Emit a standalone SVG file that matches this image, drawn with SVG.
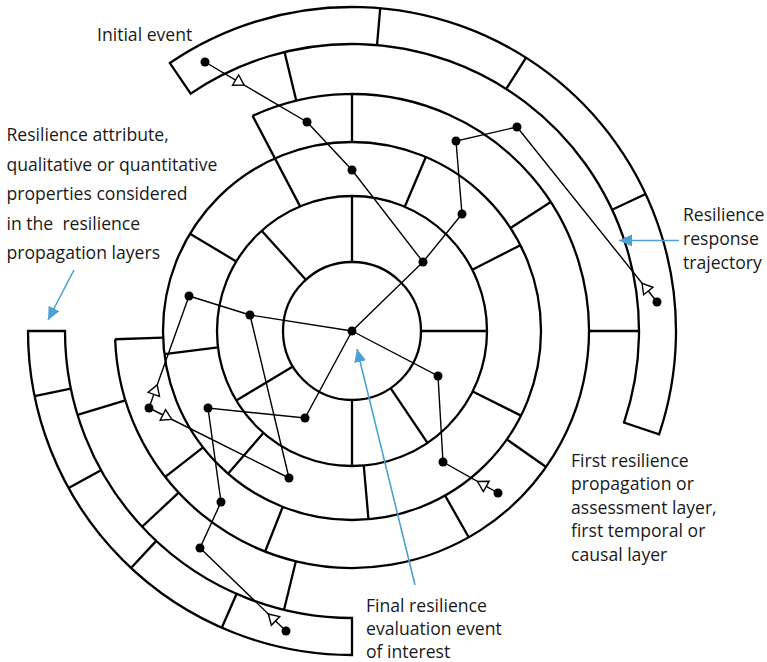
<svg xmlns="http://www.w3.org/2000/svg" width="767" height="662" viewBox="0 0 767 662">
  <defs>
    <style>
      .ring{fill:none;stroke:#000;stroke-width:2.3;stroke-linejoin:miter}
      .div line{stroke:#000;stroke-width:2.3}
      .trj{fill:none;stroke:#000;stroke-width:1.4}
      .dot{fill:#000}
      .lbl{font-family:"Open Sans","Noto Sans","DejaVu Sans",sans-serif;font-size:17.6px;fill:#1a1a1a}
      .ptr{fill:none;stroke:#4ba0d4;stroke-width:1.6}
    </style>
    <!-- hollow start-of-trajectory triangle, centred on the vertex -->
    <marker id="startTri" viewBox="-9 -9 18 18" markerWidth="18" markerHeight="18" refX="0" refY="0" orient="auto" markerUnits="userSpaceOnUse">
      <path d="M6.5,0 L-3.5,-6 L-3.5,6 Z" fill="#fff" stroke="#000" stroke-width="1.4"/>
    </marker>
    <!-- filled blue pointer head -->
    <marker id="blueHead" viewBox="0 -7 14 14" markerWidth="14" markerHeight="14" refX="13" refY="0" orient="auto" markerUnits="userSpaceOnUse">
      <path d="M0,-6 L13,0 L0,6 Z" fill="#4ba0d4"/>
    </marker>
  </defs>

  <rect width="767" height="662" fill="#fff"/>

  <!-- concentric layers, centred on the final event -->
  <g id="layers" transform="translate(352,331)">
    <circle class="ring" r="69"/>
    <circle class="ring" r="135"/>
    <circle class="ring" r="189"/>
    <!-- third layer band, almost a full turn -->
    <path class="ring" d="M-99.41,-215.14 A237,237 0 1 1 -236.86,8.27"/>
    <!-- outer band, upper right -->
    <path class="ring" d="M-182.11,-267.97 A324,324 0 0 1 307.08,103.34 L272.01,91.54 A287,287 0 0 0 -161.32,-237.37 Z"/>
    <!-- outer band, lower left -->
    <path class="ring" d="M0,324 A324,324 0 0 1 -324,0 L-287,0 A287,287 0 0 0 0,287 Z"/>
  </g>

  <!-- cell dividers -->
  <g id="dividers" class="div" transform="translate(352,331)">
    <!-- band ends -->
    <line x1="-99.41" y1="-215.14" x2="-51.88" y2="-124.63"/>
    <line x1="-236.86" y1="8.27" x2="-188.88" y2="6.60"/>
    <!-- layer 1 -->
    <line x1="69" x2="135" transform="rotate(-132)"/>
    <line x1="69" x2="135" transform="rotate(-90)"/>
    <line x1="69" x2="135" transform="rotate(0)"/>
    <line x1="69" x2="135" transform="rotate(56)"/>
    <line x1="69" x2="135" transform="rotate(90)"/>
    <line x1="69" x2="135" transform="rotate(149)"/>
    <!-- layer 2 -->
    <line x1="135" x2="189" transform="rotate(-149)"/>
    <line x1="135" x2="189" transform="rotate(-67)"/>
    <line x1="135" x2="189" transform="rotate(-27)"/>
    <line x1="135" x2="189" transform="rotate(26.6)"/>
    <line x1="135" x2="189" transform="rotate(85)"/>
    <line x1="135" x2="189" transform="rotate(131)"/>
    <line x1="135" x2="189" transform="rotate(173)"/>
    <!-- layer 3 -->
    <line x1="189" x2="237" transform="rotate(-90)"/>
    <line x1="189" x2="237" transform="rotate(-33)"/>
    <line x1="189" x2="237" transform="rotate(35)"/>
    <line x1="189" x2="237" transform="rotate(60.5)"/>
    <line x1="189" x2="237" transform="rotate(111.5)"/>
    <line x1="189" x2="237" transform="rotate(142)"/>
    <!-- layer 4 -->
    <line x1="237" x2="287" transform="rotate(-103.6)"/>
    <line x1="237" x2="287" transform="rotate(0)"/>
    <line x1="237" x2="287" transform="rotate(103.7)"/>
    <line x1="237" x2="287" transform="rotate(137)"/>
    <line x1="237" x2="287" transform="rotate(163)"/>
    <!-- layer 5 -->
    <line x1="287" x2="324" transform="rotate(-85)"/>
    <line x1="287" x2="324" transform="rotate(-57.5)"/>
    <line x1="287" x2="324" transform="rotate(-25)"/>
    <line x1="287" x2="324" transform="rotate(113.7)"/>
    <line x1="287" x2="324" transform="rotate(133)"/>
    <line x1="287" x2="324" transform="rotate(151)"/>
    <line x1="287" x2="324" transform="rotate(168.4)"/>
  </g>

  <!-- trajectories -->
  <g id="connectors">
    <path class="trj" d="M205,62 L238.6,81.8 L307,122" marker-mid="url(#startTri)"/>
    <path class="trj" d="M307,122 L352,170 L423,262 L352,331"/>
    <path class="trj" d="M657,302 L646.1,288.3 L517,127" marker-mid="url(#startTri)"/>
    <path class="trj" d="M517,127 L456,141 L462,214 L423,262"/>
    <path class="trj" d="M149,408 L155,391 L189,296" marker-mid="url(#startTri)"/>
    <path class="trj" d="M189,296 L250,315 L352,331"/>
    <path class="trj" d="M149,408 L166,416.5 L289,478" marker-mid="url(#startTri)"/>
    <path class="trj" d="M289,478 L250,315"/>
    <path class="trj" d="M286,631 L273,618.5 L200,548" marker-mid="url(#startTri)"/>
    <path class="trj" d="M200,548 L221,502 L208,408 L305,418 L352,331"/>
    <path class="trj" d="M498,493 L483.2,484.7 L443,462" marker-mid="url(#startTri)"/>
    <path class="trj" d="M443,462 L438,376 L352,331"/>
  </g>

  <!-- events -->
  <g id="nodes">
    <g id="final-event"><circle class="dot" cx="352" cy="331" r="4.5"/></g>
    <g id="e-top-start"><circle class="dot" cx="205" cy="62" r="4.5"/></g>
    <g id="e-top-1"><circle class="dot" cx="307" cy="122" r="4.5"/></g>
    <g id="e-top-2"><circle class="dot" cx="352" cy="170" r="4.5"/></g>
    <g id="e-top-3"><circle class="dot" cx="423" cy="262" r="4.5"/></g>
    <g id="e-right-start"><circle class="dot" cx="657" cy="302" r="4.5"/></g>
    <g id="e-right-1"><circle class="dot" cx="517" cy="127" r="4.5"/></g>
    <g id="e-right-2"><circle class="dot" cx="456" cy="141" r="4.5"/></g>
    <g id="e-right-3"><circle class="dot" cx="462" cy="214" r="4.5"/></g>
    <g id="e-left-start"><circle class="dot" cx="149" cy="408" r="4.5"/></g>
    <g id="e-left-1"><circle class="dot" cx="189" cy="296" r="4.5"/></g>
    <g id="e-left-2"><circle class="dot" cx="250" cy="315" r="4.5"/></g>
    <g id="e-left-3"><circle class="dot" cx="289" cy="478" r="4.5"/></g>
    <g id="e-bottom-start"><circle class="dot" cx="286" cy="631" r="4.5"/></g>
    <g id="e-bottom-1"><circle class="dot" cx="200" cy="548" r="4.5"/></g>
    <g id="e-bottom-2"><circle class="dot" cx="221" cy="502" r="4.5"/></g>
    <g id="e-bottom-3"><circle class="dot" cx="208" cy="408" r="4.5"/></g>
    <g id="e-bottom-4"><circle class="dot" cx="305" cy="418" r="4.5"/></g>
    <g id="e-lowright-start"><circle class="dot" cx="498" cy="493" r="4.5"/></g>
    <g id="e-lowright-1"><circle class="dot" cx="443" cy="462" r="4.5"/></g>
    <g id="e-lowright-2"><circle class="dot" cx="438" cy="376" r="4.5"/></g>
  </g>

  <!-- callout pointers -->
  <g id="pointers">
    <line class="ptr" x1="74" y1="270" x2="48" y2="320" marker-end="url(#blueHead)"/>
    <line class="ptr" x1="679" y1="240.5" x2="619" y2="240.5" marker-end="url(#blueHead)"/>
    <line class="ptr" x1="415" y1="585" x2="357" y2="349" marker-end="url(#blueHead)"/>
  </g>

  <!-- labels -->
  <g id="labels" class="lbl">
    <text x="97" y="41">Initial event</text>
    <text x="6.5" y="141">Resilience attribute,</text>
    <text x="6.5" y="170.5">qualitative or quantitative</text>
    <text x="6.5" y="200">properties considered</text>
    <text x="6.5" y="229.5" xml:space="preserve">in the  resilience</text>
    <text x="6.5" y="259">propagation layers</text>
    <text x="683" y="220.5">Resilience</text>
    <text x="683" y="244.5">response</text>
    <text x="683" y="268.5">trajectory</text>
    <text x="571" y="466.5">First resilience</text>
    <text x="571" y="490">propagation or</text>
    <text x="571" y="513.5">assessment layer,</text>
    <text x="571" y="537">first temporal or</text>
    <text x="571" y="560.5">causal layer</text>
    <text x="366" y="612">Final resilience</text>
    <text x="366" y="635">evaluation event</text>
    <text x="366" y="657.5">of interest</text>
  </g>
</svg>
